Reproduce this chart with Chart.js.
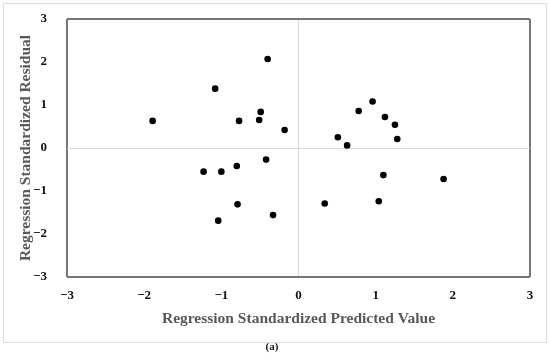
<!DOCTYPE html>
<html>
<head>
<meta charset="utf-8">
<script src="https://cdn.jsdelivr.net/npm/chart.js@4/dist/chart.umd.min.js"></script>
<style>
  html, body { margin: 0; padding: 0; background: #ffffff; }
  #wrap { position: relative; width: 550px; height: 359px; overflow: hidden; background: #fff; }
  #frame { position: absolute; left: 3px; top: 3px; width: 542px; height: 338px; border: 1px solid #dedede; box-sizing: content-box; }
  #c { position: absolute; left: 0; top: 0; }
  #cap { position: absolute; left: 0; width: 550px; top: 340px; text-align: center; font-family: "Liberation Serif", serif; font-weight: bold; font-size: 11px; color: #222; }
  #cap span { position: relative; left: -3px; }
</style>
</head>
<body>
<div id="wrap">
  <div id="frame"></div>
  <canvas id="c" width="550" height="359"></canvas>
  <div id="cap"><span>(a)</span></div>
</div>
<script>
// Regression standardized predicted value (x) and residual (y)
const predictedValues = [
  -0.40, -1.08, -1.89, -0.77, -0.51, -0.49, -0.18, -0.42, -0.80, -1.00, -1.23,
  -0.79, -1.04, -0.33,
   0.96,  0.78,  1.12,  1.25,  1.28,  0.51,  0.63,
   1.10,  1.88,  0.34,  1.04
];
const residualValues = [
   2.07,  1.38,  0.63,  0.63,  0.65,  0.84,  0.42, -0.27, -0.42, -0.55, -0.55,
  -1.31, -1.69, -1.56,
   1.08,  0.86,  0.72,  0.54,  0.21,  0.25,  0.06,
  -0.63, -0.72, -1.29, -1.24
];
const xTickValues = [-3, -2, -1, 0, 1, 2, 3];
const xTickLabels = ['\u22123', '\u22122', '\u22121', '0', '1', '2', '3'];
const yTickValues = [-3, -2, -1, 0, 1, 2, 3];
const yTickLabels = ['\u22123', '\u22122', '\u22121', '0', '1', '2', '3'];
const xTitle = 'Regression Standardized Predicted Value';
const yTitle = 'Regression Standardized Residual';

const points = predictedValues.map((x, i) => ({ x: x, y: residualValues[i] }));

const edgeColor = '#767676';
const zeroColor = '#d9d9d9';
function gridColor(ctx) {
  const v = ctx.tick ? ctx.tick.value : null;
  if (v === -3 || v === 3) return edgeColor;
  if (v === 0) return zeroColor;
  return 'rgba(0,0,0,0)';
}
function gridWidth(ctx) {
  const v = ctx.tick ? ctx.tick.value : null;
  if (v === -3 || v === 3) return 2;
  return 1;
}

new Chart(document.getElementById('c'), {
  type: 'scatter',
  data: {
    datasets: [{
      data: points,
      backgroundColor: '#000000',
      borderColor: '#000000',
      pointRadius: 3.3,
      pointHoverRadius: 3.3,
      borderWidth: 0
    }]
  },
  options: {
    responsive: false,
    animation: false,
    devicePixelRatio: 1,
    layout: { padding: { left: 0, right: 20, top: 19, bottom: 24 } },
    plugins: { legend: { display: false }, tooltip: { enabled: false } },
    scales: {
      x: {
        type: 'linear',
        min: -3, max: 3,
        afterBuildTicks: (axis) => { axis.ticks = xTickValues.map(v => ({ value: v })); },
        afterFit: (axis) => { axis.height = 58; axis.paddingLeft = 0; axis.paddingRight = 0; },
        ticks: {
          callback: (v) => xTickLabels[xTickValues.indexOf(v)],
          color: '#111111',
          font: { family: '"Liberation Serif", serif', size: 13, weight: 'bold' },
          padding: 11,
          maxRotation: 0
        },
        grid: { color: gridColor, lineWidth: gridWidth, drawTicks: false },
        border: { display: false },
        title: {
          display: true,
          text: xTitle,
          color: '#595959',
          font: { family: '"Liberation Serif", serif', size: 15.5, weight: 'bold' },
          padding: { top: 0, bottom: 7 }
        }
      },
      y: {
        type: 'linear',
        min: -3, max: 3,
        afterBuildTicks: (axis) => { axis.ticks = yTickValues.map(v => ({ value: v })); },
        afterFit: (axis) => { axis.width = 67; axis.paddingTop = 0; axis.paddingBottom = 0; },
        ticks: {
          callback: (v) => yTickLabels[yTickValues.indexOf(v)],
          color: '#111111',
          font: { family: '"Liberation Serif", serif', size: 13, weight: 'bold' },
          padding: 20
        },
        grid: { color: gridColor, lineWidth: gridWidth, drawTicks: false },
        border: { display: false },
        title: {
          display: true,
          text: yTitle,
          color: '#595959',
          font: { family: '"Liberation Serif", serif', size: 15.5, weight: 'bold' },
          padding: { top: 17, bottom: 0 }
        }
      }
    }
  }
});
</script>
</body>
</html>
